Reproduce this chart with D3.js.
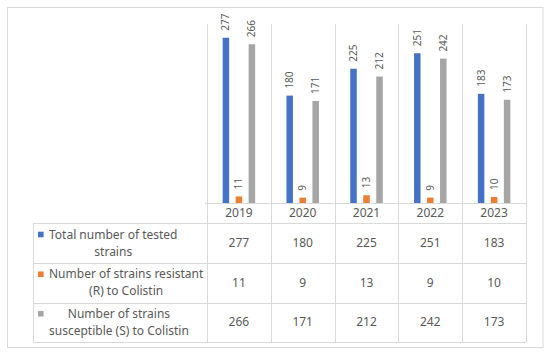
<!DOCTYPE html>
<html><head><meta charset="utf-8">
<script src="https://cdn.jsdelivr.net/npm/d3@7"></script>
<style>body{margin:0;background:#fff}svg{display:block}</style>
</head><body>
<script>
const years = ["2019","2020","2021","2022","2023"];
const seriesNames = [
  ["Total number of tested", "strains"],
  ["Number of strains resistant", "(R) to Colistin"],
  ["Number of strains", "susceptible (S) to Colistin"]
];
const totalTested = [277,180,225,251,183];
const resistant = [11,9,13,9,10];
const susceptible = [266,171,212,242,173];
const colors = ["#4472C4","#ED7D31","#A5A5A5"];
const series = [totalTested, resistant, susceptible];

const W=550,H=355;
const svg=d3.select("body").append("svg").attr("width",W).attr("height",H);
svg.append("rect").attr("x",7.5).attr("y",7.5).attr("width",535.5).attr("height",340).attr("fill","#fff").attr("stroke","#D9D9D9");

const font="'Noto Sans', sans-serif", txt="#595959", grid="#D9D9D9";
const plotL=207, plotR=526, plotT=24, base=203;
const x=d3.scaleBand().domain(years).range([plotL,plotR]);
const y=d3.scaleLinear().domain([0,300]).range([base,plotT]);
const rowTops=[223,263,302.5,342];
const tableL=33;

// vertical lines
const vx=years.map(d=>x(d)).concat([plotR]);
svg.selectAll("line.v").data(vx).enter().append("line")
  .attr("x1",d=>Math.round(d)+0.5).attr("x2",d=>Math.round(d)+0.5)
  .attr("y1",plotT).attr("y2",rowTops[3]).attr("stroke",grid);
// horizontal lines
svg.append("line").attr("x1",plotL-2).attr("x2",plotR).attr("y1",base+0.5).attr("y2",base+0.5).attr("stroke",grid);
rowTops.forEach(r=>svg.append("line").attr("x1",tableL).attr("x2",plotR+0.5).attr("y1",Math.round(r)+0.5).attr("y2",Math.round(r)+0.5).attr("stroke",grid));
svg.append("line").attr("x1",tableL+0.5).attr("x2",tableL+0.5).attr("y1",rowTops[0]).attr("y2",rowTops[3]).attr("stroke",grid);

// bars
const bw=6.5, step=13;
series.forEach((s,i)=>{
  const g=svg.append("g");
  g.selectAll("rect").data(s).enter().append("rect")
    .attr("x",(d,j)=>x(years[j])+x.bandwidth()/2+(i-1)*step-bw/2)
    .attr("y",d=>y(d)).attr("width",bw).attr("height",d=>base-y(d)).attr("fill",colors[i]);
  g.selectAll("text").data(s).enter().append("text")
    .attr("transform",(d,j)=>`translate(${x(years[j])+x.bandwidth()/2+(i-1)*step},${y(d)-7}) rotate(-90)`)
    .attr("dy","0.35em").attr("font-family",font).attr("font-size",10).attr("fill",txt)
    .text(d=>d);
});

// year labels
svg.selectAll("text.yr").data(years).enter().append("text")
  .attr("x",d=>x(d)+x.bandwidth()/2).attr("y",(base+rowTops[0])/2).attr("dy","0.35em")
  .attr("text-anchor","middle").attr("font-family",font).attr("font-size",12).attr("fill",txt).text(d=>d);

// table rows
series.forEach((s,i)=>{
  const cy=(rowTops[i]+rowTops[i+1])/2;
  svg.append("rect").attr("x",38).attr("y",cy-8.5-2.8).attr("width",5.6).attr("height",5.6).attr("fill",colors[i]);
  const lines=seriesNames[i];
  const tg=svg.append("g");
  const ts=lines.map((l,k)=>tg.append("text").attr("y",cy+(k===0?-8.5:8.5)).attr("dy","0.35em")
    .attr("text-anchor","middle").attr("font-family",font).attr("font-size",12).attr("fill",txt).text(l));
  const mw=d3.max(ts,t=>t.node().getComputedTextLength());
  ts.forEach(t=>t.attr("x",49+mw/2));
  svg.selectAll(null).data(s).enter().append("text")
    .attr("x",(d,j)=>x(years[j])+x.bandwidth()/2).attr("y",cy).attr("dy","0.35em")
    .attr("text-anchor","middle").attr("font-family",font).attr("font-size",12).attr("fill",txt).text(d=>d);
});
</script>
</body></html>
